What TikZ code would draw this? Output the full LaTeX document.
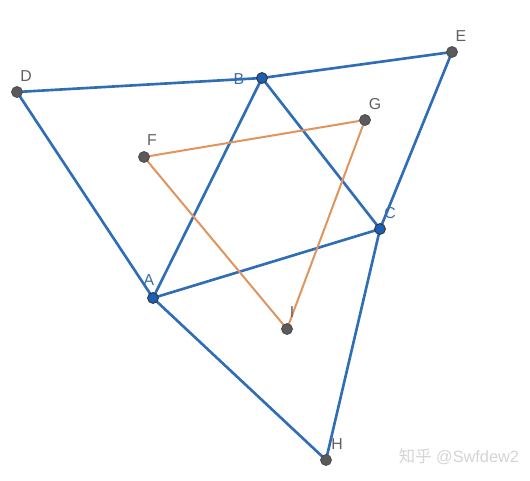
\documentclass[tikz,border=0pt]{standalone}
\usepackage{fontspec}
\setmainfont{Liberation Sans}
\newfontfamily\cjkfont{Noto Sans CJK SC}
\usepackage{xcolor}
\usepackage{tikz}

\definecolor{segblue}{HTML}{2F6DB5}
\definecolor{segorange}{HTML}{E0955F}
\definecolor{ptgray}{HTML}{5A5A5A}
\definecolor{ptblue}{HTML}{1A5FB4}
\definecolor{lblgray}{HTML}{606060}
\definecolor{lblblue}{HTML}{3A6EA5}
\definecolor{wmgray}{HTML}{D4D4D4}

\tikzset{
  blueline/.style={segblue, line width=1.5pt},
  orangeline/.style={segorange, line width=1.15pt},
  freept/.style={fill=ptgray, draw=black!70, line width=0.5pt},
  fixpt/.style={fill=ptblue, draw=black!80, line width=0.5pt},
  freelbl/.style={text=lblgray, font=\fontsize{9}{10}\selectfont, inner sep=0pt},
  fixlbl/.style={text=lblblue, font=\fontsize{9}{10}\selectfont, inner sep=0pt}
}

\begin{document}
\begin{tikzpicture}[x=0.02cm, y=-0.02cm]
  \useasboundingbox (0,0) rectangle (530,480);

  % Points
  \coordinate (D) at (17,92);
  \coordinate (E) at (452,52);
  \coordinate (H) at (326,460);
  \coordinate (B) at (262,78);
  \coordinate (C) at (380,229);
  \coordinate (A) at (153,298);
  \coordinate (F) at (144,157);
  \coordinate (G) at (365,120);
  \coordinate (I) at (287,329);

  % Outer star
  \draw[blueline] (D) -- (B) -- (E) -- (C) -- (H) -- (A) -- cycle;

  % Triangle ABC
  \draw[blueline] (A) -- (B) -- (C) -- cycle;

  % Triangle FGI
  \draw[orangeline] (F) -- (G) -- (I) -- cycle;

  % Dots
  \foreach \p in {D,E,H,F,G,I}
    \draw[freept] (\p) circle (3.1pt);
  \foreach \p in {A,B,C}
    \draw[fixpt] (\p) circle (3.1pt);

  % Labels
  \node[freelbl] (lD) at (26,76) {D};
  \node[freelbl] (lE) at (461,36) {E};
  \node[freelbl] (lH) at (337,444) {H};
  \node[freelbl] (lF) at (152,140) {F};
  \node[freelbl] (lG) at (375,104) {G};
  \node[freelbl] (lI) at (292,312) {I};
  \node[fixlbl] (lA) at (149,280) {A};
  \node[fixlbl] (lB) at (239,79) {B};
  \node[fixlbl] (lC) at (390,213) {C};

  % Watermark
  \node[text=wmgray, font=\fontsize{9.3}{11}\selectfont, inner sep=0pt] (wm) at (459,457) {{\cjkfont 知乎} @Swfdew2};
\end{tikzpicture}
\end{document}
